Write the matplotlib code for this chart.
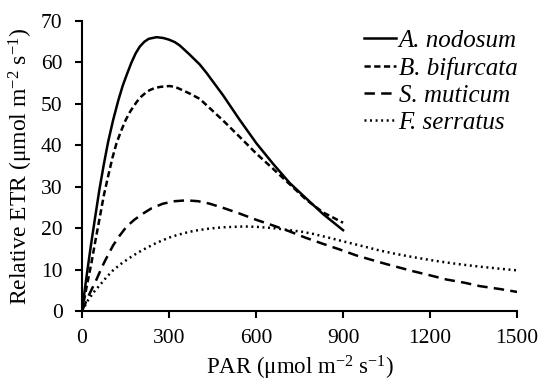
import matplotlib
matplotlib.use("Agg")
import matplotlib.pyplot as plt

plt.rcParams['font.family'] = ['Liberation Serif', 'DejaVu Serif']
plt.rcParams['mathtext.fontset'] = 'custom'
plt.rcParams['mathtext.rm'] = 'Liberation Serif'
plt.rcParams['mathtext.it'] = 'Liberation Serif:italic'
plt.rcParams['lines.scale_dashes'] = False

# A. nodosum
par_nod = [0, 15, 30, 45, 60, 75, 90, 107, 125, 140, 153, 170, 185, 199, 215, 230, 257, 280, 300, 320, 337, 371, 406, 429, 486, 544, 601, 659, 716, 774, 831, 900]
etr_nod = [0, 8.0, 15.5, 22.5, 29.3, 35.3, 40.8, 46.0, 50.8, 54.3, 56.8, 59.9, 62.2, 63.8, 65.0, 65.7, 66.1, 65.9, 65.5, 64.9, 64.1, 61.9, 59.5, 57.5, 52.1, 46.1, 40.5, 35.5, 30.9, 27.1, 23.4, 19.5]
# B. bifurcata
par_bif = [0, 15, 32, 45, 61, 75, 90, 105, 119, 135, 150, 165, 176, 190, 205, 220, 233, 250, 270, 302, 320, 337, 371, 406, 429, 486, 544, 601, 659, 716, 774, 831, 900]
etr_bif = [0, 5.5, 11.4, 16.5, 22.5, 27.8, 32.5, 37.0, 40.5, 43.5, 46.0, 48.0, 49.2, 50.6, 51.8, 52.7, 53.3, 53.8, 54.1, 54.3, 54.1, 53.6, 52.5, 51.2, 49.7, 46.0, 42.0, 38.0, 34.3, 30.6, 26.8, 23.8, 21.3]
# S. muticum
par_mut = [0, 25, 50, 65, 80, 95, 107, 130, 153, 180, 210, 240, 279, 320, 360, 400, 440, 486, 540, 601, 660, 716, 770, 831, 890, 946, 1000, 1050, 1141, 1200, 1256, 1320, 1371, 1440, 1500]
etr_mut = [0, 4.0, 7.6, 10.0, 12.2, 14.2, 15.8, 18.2, 20.3, 22.0, 23.5, 24.8, 25.9, 26.5, 26.7, 26.5, 25.9, 24.9, 23.6, 22.0, 20.6, 19.2, 17.7, 16.2, 14.8, 13.4, 12.3, 11.3, 9.6, 8.6, 7.6, 6.8, 6.0, 5.3, 4.6]
# F. serratus
par_ser = [0, 21, 40, 61, 85, 107, 135, 164, 193, 222, 250, 279, 308, 337, 370, 400, 440, 486, 560, 601, 660, 716, 760, 797, 850, 912, 970, 1026, 1080, 1141, 1200, 1256, 1310, 1371, 1440, 1500]
etr_ser = [0, 2.6, 4.5, 6.2, 8.2, 9.8, 11.4, 12.8, 14.1, 15.2, 16.2, 17.1, 17.9, 18.5, 19.1, 19.5, 19.9, 20.2, 20.4, 20.3, 20.0, 19.5, 19.1, 18.6, 17.7, 16.6, 15.6, 14.6, 13.8, 13.0, 12.3, 11.7, 11.2, 10.7, 10.2, 9.8]

xticks = [0, 300, 600, 900, 1200, 1500]
yticks = [0, 10, 20, 30, 40, 50, 60, 70]

fig = plt.figure(figsize=(5.42, 3.82), dpi=100)
ax = fig.add_axes([0.1513, 0.186, 0.8027, 0.759])

lw = 1.8
ax.plot(par_nod, etr_nod, color='black', lw=lw, linestyle='-', label='A. nodosum')
ax.plot(par_bif, etr_bif, color='black', lw=lw, linestyle=(0, (4.5, 2.5)), label='B. bifurcata')
ax.plot(par_mut, etr_mut, color='black', lw=lw, linestyle=(0, (7.5, 4.5)), label='S. muticum')
ax.plot(par_ser, etr_ser, color='black', lw=lw, linestyle=(0, (1.4, 2.6)), label='F. serratus')

ax.set_xlim(0, 1500)
ax.set_ylim(0, 70)
ax.set_xticks(xticks)
ax.set_yticks(yticks)
ax.tick_params(axis='both', which='major', direction='out', length=5, width=1.5, labelsize=15.5)
ax.tick_params(axis='x', pad=8)
ax.tick_params(axis='y', pad=9)
for s in ['top', 'right']:
    ax.spines[s].set_visible(False)
for s in ['left', 'bottom']:
    ax.spines[s].set_linewidth(1.5)

ax.set_xlabel(r'PAR (μmol m$^{-2}$ s$^{-1}$)', fontsize=16.5, labelpad=4)
ax.set_ylabel(r'Relative ETR (μmol m$^{-2}$ s$^{-1}$)', fontsize=17, labelpad=4)

leg = ax.legend(loc='upper right', bbox_to_anchor=(1.035, 1.022), frameon=False,
                prop={'family': 'Liberation Serif', 'style': 'italic', 'size': 18},
                handlelength=1.3, handletextpad=0.1, labelspacing=0.18, borderaxespad=0.2)

fig.savefig('out.png', dpi=100)
